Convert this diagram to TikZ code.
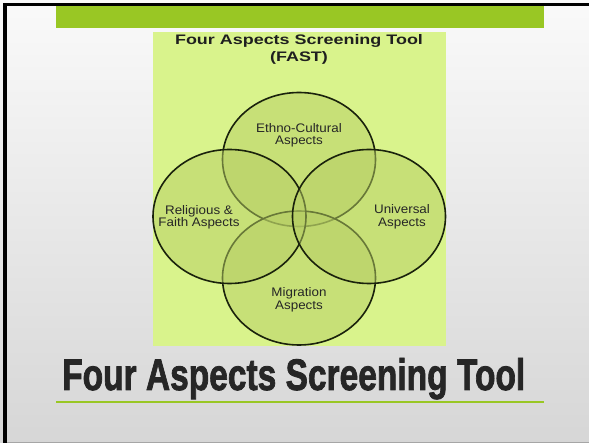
\documentclass[tikz,border=0pt]{standalone}
\usepackage{fontspec}
\usepackage{graphicx}
\setmainfont{Liberation Sans}
\newfontfamily\headfont[FakeStretch=1.3]{Liberation Sans}
\newfontfamily\lblfont[FakeStretch=1.08]{Liberation Sans}
\newfontfamily\slidefont{Liberation Sans}[BoldFeatures={FakeBold=2}]
\usetikzlibrary{shapes.geometric}
\definecolor{barGreen}{RGB}{153,199,36}
\definecolor{paleGreen}{RGB}{217,243,140}
\definecolor{ringFill}{RGB}{182,206,100}
\definecolor{ringLine}{RGB}{26,34,12}
\definecolor{titleGray}{RGB}{38,38,38}

\begin{document}
\begin{tikzpicture}[x=1pt,y=-1pt,
  ring/.style={ellipse,draw=ringLine,line width=1.6pt,fill=ringFill,fill opacity=0.5,
    minimum width=153pt,minimum height=134pt,inner sep=0pt},
  lbl/.style={align=center,inner sep=0pt,text=black!85,font=\lblfont\fontsize{12.4}{12.6}\selectfont}]
\useasboundingbox (0,0) rectangle (589,443);
\fill[top color=black!2,bottom color=black!16] (0,0) rectangle (589,443);
\fill[black] (2.7,3.2) rectangle (589,5.6);
\fill[black] (2.7,3.2) rectangle (7.3,443);
\fill[black!35] (7.3,441.5) rectangle (589,443);
\fill[barGreen] (56,5.6) rectangle (544,27.7);
\fill[paleGreen] (152.7,32.3) rectangle (445.7,345.7);
\node[anchor=base,inner sep=0pt,text=black!88,font=\headfont\fontsize{13.8}{14}\selectfont\bfseries] (fastTitle) at (299,44.3) {Four Aspects Screening Tool};
\node[anchor=base,inner sep=0pt,text=black!88,font=\headfont\fontsize{13.8}{14}\selectfont\bfseries] (fastAbbr) at (299,61.3) {(FAST)};
\node[ring] (eth) at (299,159.5) {};
\node[ring] (mig) at (299,278) {};
\node[ring] (rel) at (229.5,216.5) {};
\node[ring] (uni) at (369,216.5) {};
\node[lbl] (ethText) at (299,135.2) {Ethno-Cultural\\Aspects};
\node[lbl] (relText) at (199,217.1) {Religious \&\\Faith Aspects};
\node[lbl] (uniText) at (402,216.8) {Universal\\Aspects};
\node[lbl] (migText) at (299,299.6) {Migration\\Aspects};
\node[anchor=base west,inner sep=0pt,text=titleGray] (slideTitle) at (62,390) {\resizebox{463pt}{32pt}{\slidefont\bfseries Four Aspects Screening Tool}};
\draw[barGreen,line width=2.2pt] (56,402) -- (544,402);
\end{tikzpicture}
\end{document}
